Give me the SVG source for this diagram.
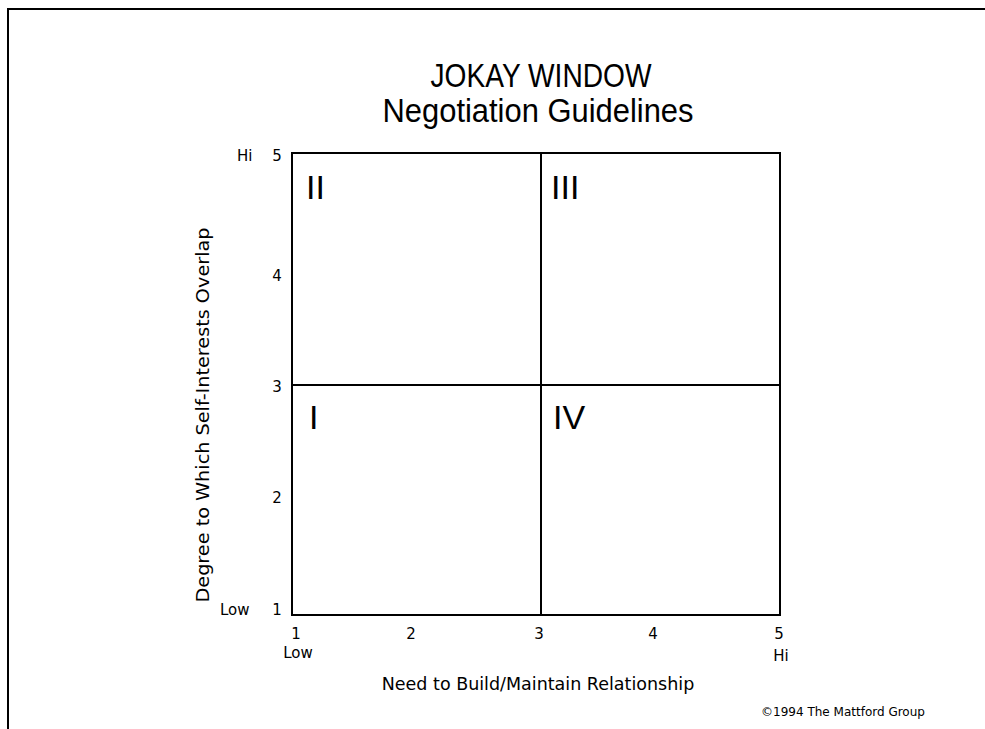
<svg xmlns="http://www.w3.org/2000/svg" width="985" height="729" viewBox="0 0 985 729">
<style>
.ln{stroke:#000;stroke-width:2;fill:none}
.t{font-family:"DejaVu Sans","Liberation Sans",sans-serif;fill:#000}
.title{font-family:"Liberation Sans",sans-serif;font-size:33px;text-anchor:middle;fill:#000}
.tk{font-size:15px}
.rn{font-family:"Liberation Sans",sans-serif;font-size:34px;fill:#000}
.m{text-anchor:middle}
</style>
<rect width="985" height="729" fill="#fff"/>
<g id="frame"><polyline class="ln" points="8,729 8,9 985,9"/></g>
<g id="title">
<text class="title" x="541" y="87" textLength="221" lengthAdjust="spacingAndGlyphs">JOKAY WINDOW</text>
<text class="title" x="538" y="122" textLength="311" lengthAdjust="spacingAndGlyphs">Negotiation Guidelines</text>
</g>
<g id="connectors">
<rect class="ln" x="292" y="153" width="488" height="462"/>
<line class="ln" x1="541" y1="153" x2="541" y2="615"/>
<line class="ln" x1="292" y1="385" x2="780" y2="385"/>
</g>
<g id="quadrant-II"><text class="rn" x="306" y="199">II</text></g>
<g id="quadrant-III"><text class="rn" x="551" y="199">III</text></g>
<g id="quadrant-I"><text class="rn" x="309" y="429">I</text></g>
<g id="quadrant-IV"><text class="rn" x="553" y="429">IV</text></g>
<g id="y-axis" class="t tk">
<text x="237" y="161">Hi</text>
<text x="277" y="161" class="m">5</text>
<text x="277" y="281" class="m">4</text>
<text x="277" y="392" class="m">3</text>
<text x="277" y="503" class="m">2</text>
<text x="277" y="615" class="m">1</text>
<text x="220" y="615">Low</text>
</g>
<g id="x-axis" class="t tk">
<text x="296" y="639" class="m">1</text>
<text x="298" y="658" class="m">Low</text>
<text x="411" y="639" class="m">2</text>
<text x="539" y="639" class="m">3</text>
<text x="653" y="639" class="m">4</text>
<text x="779" y="639" class="m">5</text>
<text x="781" y="661" class="m">Hi</text>
</g>
<g id="labels" class="t">
<text x="538" y="690" class="m" style="font-size:17.5px">Need to Build/Maintain Relationship</text>
<text transform="translate(209,415) rotate(-90)" class="m" style="font-size:17.5px" textLength="375" lengthAdjust="spacingAndGlyphs">Degree to Which Self-Interests Overlap</text>
<text x="843" y="716" class="m" style="font-size:12px">©1994 The Mattford Group</text>
</g>
</svg>
